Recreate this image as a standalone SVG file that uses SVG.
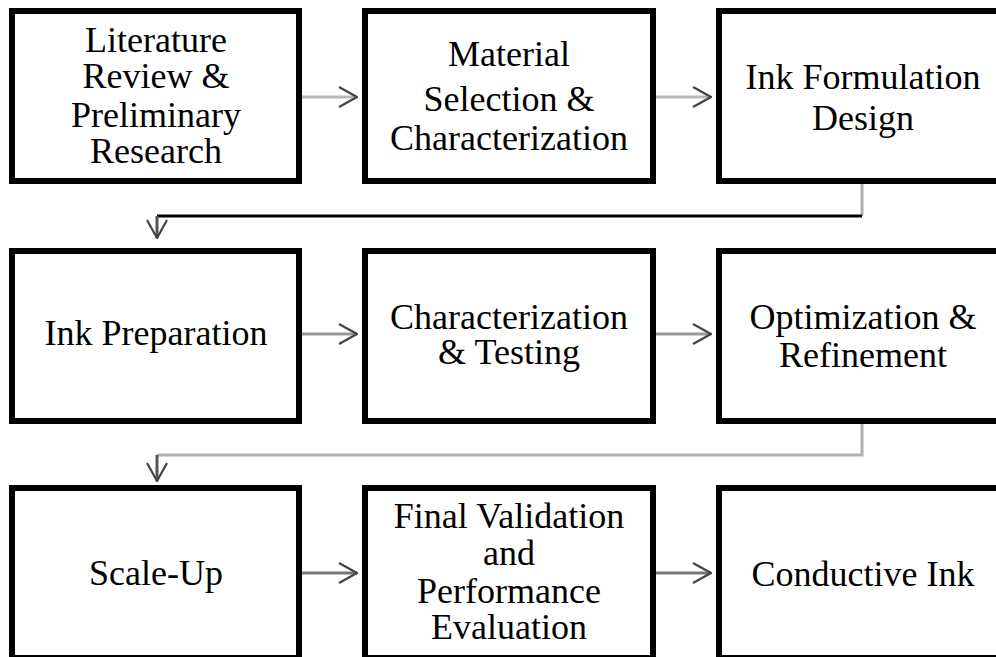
<svg xmlns="http://www.w3.org/2000/svg" width="996" height="657" viewBox="0 0 996 657">
<style>
.box{fill:#fff;stroke:#000;stroke-width:6}
.t{font-family:'Liberation Serif','Times New Roman',serif;font-size:36px;fill:#000;text-anchor:middle}
.c{fill:none;stroke-width:3}
</style>
<defs>
<marker id="ah" viewBox="0 0 20 22" refX="19" refY="11" markerWidth="20" markerHeight="22" markerUnits="userSpaceOnUse" orient="auto">
<path d="M1,1 L19,11 L1,21" fill="none" stroke="#444" stroke-width="2.2"/>
</marker>
</defs>
<rect width="996" height="657" fill="#fff"/>
<g id="connectors">
<path class="c" d="M302,97 H357" stroke="#b8b8b8" marker-end="url(#ah)"/>
<path class="c" d="M656,97 H711" stroke="#b8b8b8" marker-end="url(#ah)"/>
<path class="c" d="M862,184 V216" stroke="#b0b0b0"/>
<path class="c" d="M862,216 H157" stroke="#000"/>
<path class="c" d="M157,216 V238" stroke="#555" marker-end="url(#ah)"/>
<path class="c" d="M302,334 H357" stroke="#999" marker-end="url(#ah)"/>
<path class="c" d="M656,334 H711" stroke="#999" marker-end="url(#ah)"/>
<path class="c" d="M862,424 V455 H157" stroke="#b0b0b0"/>
<path class="c" d="M157,455 V481" stroke="#555" marker-end="url(#ah)"/>
<path class="c" d="M302,573 H357" stroke="#777" marker-end="url(#ah)"/>
<path class="c" d="M656,573 H711" stroke="#777" marker-end="url(#ah)"/>
</g>
<g id="n1"><rect class="box" x="12" y="11" width="287" height="170"/>
<text class="t"><tspan x="156" y="52">Literature</tspan><tspan x="156" y="88">Review &amp;</tspan><tspan x="156" y="127">Preliminary</tspan><tspan x="156" y="163">Research</tspan></text></g>
<g id="n2"><rect class="box" x="365" y="11" width="288" height="170"/>
<text class="t"><tspan x="509" y="66">Material</tspan><tspan x="509" y="111">Selection &amp;</tspan><tspan x="509" y="150">Characterization</tspan></text></g>
<g id="n3"><rect class="box" x="719" y="11" width="288" height="170"/>
<text class="t"><tspan x="863" y="89">Ink Formulation</tspan><tspan x="863" y="130">Design</tspan></text></g>
<g id="n4"><rect class="box" x="12" y="251" width="287" height="170"/>
<text class="t" x="156" y="345">Ink Preparation</text></g>
<g id="n5"><rect class="box" x="365" y="251" width="288" height="170"/>
<text class="t"><tspan x="509" y="329">Characterization</tspan><tspan x="509" y="364">&amp; Testing</tspan></text></g>
<g id="n6"><rect class="box" x="719" y="251" width="288" height="170"/>
<text class="t"><tspan x="863" y="329">Optimization &amp;</tspan><tspan x="863" y="367">Refinement</tspan></text></g>
<g id="n7"><rect class="box" x="12" y="488" width="287" height="170"/>
<text class="t" x="156" y="585">Scale-Up</text></g>
<g id="n8"><rect class="box" x="365" y="488" width="288" height="170"/>
<text class="t"><tspan x="509" y="528">Final Validation</tspan><tspan x="509" y="565">and</tspan><tspan x="509" y="603">Performance</tspan><tspan x="509" y="639">Evaluation</tspan></text></g>
<g id="n9"><rect class="box" x="719" y="488" width="288" height="170"/>
<text class="t" x="863" y="586">Conductive Ink</text></g>
</svg>
